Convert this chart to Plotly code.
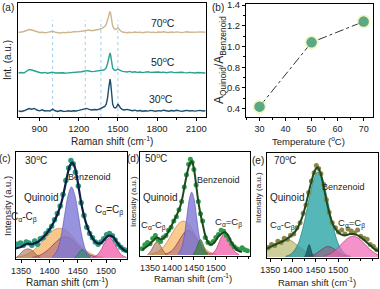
import plotly.graph_objects as go

W, H = 380, 289
FONT = "Liberation Sans, Arial, sans-serif"

# ---------------- (a) Raman spectra ----------------
a_shift = [740, 760, 780, 800, 820, 840, 860, 880, 900, 920, 940, 960, 980, 1000, 1020, 1040,
           1060, 1080, 1100, 1120, 1140, 1160, 1180, 1200, 1220, 1240, 1260, 1280, 1300, 1320, 1340, 1360,
           1375, 1390, 1400, 1410, 1420, 1428, 1435, 1440, 1445, 1452, 1460, 1470, 1480, 1490, 1500, 1510, 1520, 1535,
           1550, 1570, 1590, 1610, 1630, 1650, 1670, 1690, 1710, 1730, 1750, 1770, 1790, 1810, 1830, 1850,
           1870, 1890, 1910, 1930, 1950, 1970, 1990, 2010, 2030, 2050, 2070, 2090, 2110, 2130, 2150, 2170]
a_30C = [1.0, 0.5, 1.2, 2.0, 3.5, 2.8, 3.6, 2.0, 1.2, 2.2, 1.0, 1.4, 1.0, 2.8, 1.2, 0.6,
         1.5, 0.8, 0.6, 1.2, 0.7, 1.3, 1.0, 1.6, 2.2, 3.0, 3.6, 2.6, 2.0, 2.5, 2.2, 3.0,
         3.8, 4.5, 5.5, 7.5, 13, 22, 30, 33, 29, 17, 8, 4.5, 4.0, 5.0, 8.0, 6.0, 4.0, 2.5,
         2.0, 2.6, 1.6, 1.2, 1.8, 1.0, 1.5, 0.8, 1.3, 0.9, 1.6, 1.1, 0.7, 1.4, 1.0, 1.8,
         1.2, 0.8, 1.5, 1.0, 1.7, 1.1, 0.6, 1.3, 1.6, 1.0, 1.4, 0.9, 1.2, 1.6, 1.0, 1.3]
a_50C = [1.0, 1.5, 1.0, 2.5, 4.5, 4.0, 3.0, 2.0, 1.5, 1.0, 1.6, 0.8, 1.2, 1.8, 1.0, 1.2,
         0.7, 1.3, 0.9, 1.1, 1.5, 1.0, 1.4, 1.8, 2.2, 2.8, 3.4, 3.0, 2.4, 2.6, 2.8, 3.2,
         3.6, 4.0, 4.5, 6.0, 10, 15, 19.5, 21, 18.5, 11, 6, 4.0, 3.5, 4.0, 5.0, 4.2, 3.2, 2.6,
         2.4, 2.0, 2.6, 1.8, 2.2, 1.6, 2.0, 1.4, 1.9, 2.3, 1.6, 1.8, 1.3, 2.0, 1.5, 1.9,
         1.2, 1.7, 2.1, 1.4, 1.6, 1.2, 1.8, 1.4, 1.1, 1.6, 1.3, 1.0, 1.5, 1.2, 1.4, 1.0]
a_70C = [0.5, 0.8, 1.5, 2.5, 3.5, 3.0, 2.2, 1.0, 0.5, 0.8, 0.2, 0.6, 1.2, 1.8, 0.8, 0.4,
         0.0, 0.6, 0.3, 0.9, 0.6, 1.2, 1.0, 1.5, 1.8, 2.2, 2.8, 3.0, 2.2, 2.5, 3.0, 3.8,
         4.5, 5.5, 6.5, 8.5, 12, 16, 20, 21.5, 19.5, 13, 7, 4.5, 3.6, 4.0, 5.2, 4.0, 2.2, 1.0,
         0.6, 0.2, 0.8, 0.4, 1.0, 0.5, 0.9, 0.3, 0.8, 1.1, 0.6, 0.9, 0.4, 1.0, 0.7, 1.2,
         0.8, 0.5, 1.0, 0.6, 1.1, 0.7, 0.4, 0.9, 1.2, 0.7, 1.0, 0.6, 0.9, 1.1, 0.6, 0.8]
a_labels = ["30<sup>o</sup>C", "50<sup>o</sup>C", "70<sup>o</sup>C"]
a_ref_lines = [1000, 1250, 1370, 1500]
a_xticks = [900, 1200, 1500, 1800, 2100]

# ---------------- (b) ratio vs temperature ----------------
b_temp = [30, 50, 70]
b_ratio = [0.42, 1.04, 1.24]

# ---------------- (c) 30 C fit ----------------
c_cc_x = [1341, 1347, 1354, 1362, 1370, 1377, 1384]
c_cc_y = [0.0, 0.03, 0.07, 0.085, 0.07, 0.03, 0.0]
c_q_x = [1341, 1355, 1370, 1385, 1400, 1410, 1418, 1426, 1436, 1450, 1465, 1480, 1495]
c_q_y = [0.006, 0.022, 0.064, 0.14, 0.23, 0.27, 0.28, 0.27, 0.23, 0.146, 0.068, 0.024, 0.006]
c_m_x = [1370, 1385, 1398, 1410, 1420, 1428, 1436, 1446, 1458, 1471, 1486]
c_m_y = [0.006, 0.03, 0.079, 0.143, 0.187, 0.2, 0.187, 0.143, 0.079, 0.03, 0.006]
c_b_x = [1405, 1413, 1420, 1427, 1433, 1439, 1445, 1451, 1458, 1465, 1473]
c_b_y = [0.01, 0.064, 0.19, 0.41, 0.59, 0.67, 0.59, 0.41, 0.19, 0.064, 0.01]
c_g_x = [1444, 1450, 1454, 1458, 1462, 1466, 1472]
c_g_y = [0.0, 0.033, 0.064, 0.08, 0.064, 0.033, 0.0]
c_p_x = [1476, 1484, 1492, 1499, 1506, 1513, 1520, 1528, 1536]
c_p_y = [0.005, 0.026, 0.085, 0.155, 0.19, 0.155, 0.085, 0.026, 0.005]
c_fit_x = [1341, 1348, 1355, 1362, 1368, 1375, 1382, 1390, 1398, 1406, 1414, 1421, 1427, 1432, 1436, 1440,
           1444, 1448, 1453, 1458, 1464, 1470, 1477, 1484, 1491, 1498, 1505, 1512, 1519, 1526, 1533, 1537]
c_fit_y = [0.09, 0.10, 0.12, 0.135, 0.13, 0.14, 0.16, 0.20, 0.25, 0.32, 0.41, 0.52, 0.66, 0.79, 0.87, 0.90,
           0.87, 0.78, 0.62, 0.47, 0.34, 0.25, 0.18, 0.14, 0.14, 0.18, 0.21, 0.20, 0.15, 0.10, 0.07, 0.06]
c_pts_x = [1343, 1349, 1354, 1359, 1364, 1369, 1374, 1379, 1384, 1389, 1394, 1399, 1404, 1409, 1414, 1419,
           1424, 1429, 1434, 1438, 1442, 1446, 1451, 1456, 1461, 1466, 1471, 1476, 1481, 1486, 1491, 1496,
           1501, 1506, 1511, 1516, 1521, 1526, 1531, 1536]
c_pts_y = [0.13, 0.14, 0.12, 0.15, 0.14, 0.12, 0.16, 0.13, 0.18, 0.19, 0.23, 0.26, 0.30, 0.36, 0.42, 0.49,
           0.60, 0.73, 0.85, 0.92, 0.89, 0.81, 0.68, 0.52, 0.40, 0.29, 0.23, 0.19, 0.15, 0.13, 0.15, 0.18,
           0.22, 0.23, 0.21, 0.17, 0.13, 0.10, 0.08, 0.07]

# ---------------- (d) 50 C fit ----------------
d_cc_x = [1344, 1352, 1359, 1366, 1373, 1380, 1388]
d_cc_y = [0.0, 0.04, 0.095, 0.13, 0.095, 0.04, 0.0]
d_q_x = [1350, 1365, 1380, 1395, 1408, 1418, 1426, 1434, 1444, 1457, 1472, 1487, 1502]
d_q_y = [0.006, 0.026, 0.077, 0.17, 0.264, 0.316, 0.33, 0.316, 0.264, 0.17, 0.077, 0.026, 0.006]
d_m_x = [1385, 1398, 1410, 1420, 1430, 1437, 1444, 1454, 1464, 1476, 1489]
d_m_y = [0.008, 0.036, 0.097, 0.167, 0.226, 0.24, 0.226, 0.167, 0.097, 0.036, 0.008]
d_b_x = [1414, 1421, 1428, 1434, 1440, 1445, 1450, 1456, 1462, 1469, 1476]
d_b_y = [0.012, 0.057, 0.185, 0.37, 0.55, 0.61, 0.55, 0.37, 0.185, 0.057, 0.012]
d_g_x = [1448, 1454, 1460, 1465, 1470, 1476, 1482]
d_g_y = [0.008, 0.044, 0.116, 0.15, 0.116, 0.044, 0.008]
d_p_x = [1487, 1496, 1504, 1512, 1520, 1528, 1536, 1544, 1553]
d_p_y = [0.005, 0.028, 0.086, 0.168, 0.21, 0.168, 0.086, 0.028, 0.005]
d_fit_x = [1332, 1345, 1355, 1366, 1375, 1385, 1395, 1403, 1410, 1418, 1424, 1430, 1436, 1441, 1445, 1449,
           1454, 1459, 1464, 1470, 1476, 1483, 1490, 1498, 1506, 1514, 1521, 1528, 1536, 1544, 1552, 1560]
d_fit_y = [0.05, 0.09, 0.13, 0.17, 0.15, 0.18, 0.25, 0.32, 0.38, 0.46, 0.56, 0.70, 0.82, 0.89, 0.91, 0.86,
           0.72, 0.55, 0.42, 0.30, 0.19, 0.12, 0.10, 0.13, 0.18, 0.21, 0.22, 0.19, 0.12, 0.07, 0.04, 0.03]
d_pts_x = [1332, 1338, 1344, 1350, 1356, 1362, 1368, 1374, 1380, 1386, 1392, 1398, 1404, 1410, 1416, 1422,
           1428, 1433, 1438, 1442, 1446, 1450, 1455, 1460, 1465, 1470, 1476, 1482, 1488, 1494, 1500, 1506,
           1512, 1518, 1524, 1530, 1536, 1542, 1548, 1554, 1560, 1566, 1572]
d_pts_y = [0.06, 0.10, 0.12, 0.11, 0.16, 0.19, 0.15, 0.13, 0.17, 0.19, 0.24, 0.27, 0.33, 0.37, 0.44, 0.52,
           0.66, 0.78, 0.88, 0.93, 0.90, 0.83, 0.68, 0.52, 0.40, 0.33, 0.17, 0.12, 0.11, 0.13, 0.17, 0.20,
           0.24, 0.23, 0.19, 0.15, 0.11, 0.08, 0.06, 0.05, 0.07, 0.05, 0.04]

# ---------------- (e) 70 C fit ----------------
e_cc_x = [1343, 1355, 1365, 1375, 1385, 1395, 1405, 1415, 1428, 1442, 1458]
e_cc_y = [0.055, 0.095, 0.13, 0.16, 0.17, 0.16, 0.13, 0.095, 0.052, 0.021, 0.005]
e_q_x = [1385, 1394, 1402, 1409, 1415, 1421, 1428, 1436, 1445]
e_q_y = [0.004, 0.019, 0.05, 0.08, 0.09, 0.08, 0.05, 0.019, 0.004]
e_b_x = [1384, 1396, 1410, 1422, 1432, 1440, 1448, 1456, 1464, 1472, 1480, 1490, 1502, 1516, 1528]
e_b_y = [0.006, 0.027, 0.11, 0.275, 0.476, 0.644, 0.77, 0.82, 0.77, 0.644, 0.476, 0.275, 0.11, 0.027, 0.006]
e_n_x = [1426, 1430, 1433, 1436, 1439, 1442, 1446]
e_n_y = [0.0, 0.04, 0.09, 0.12, 0.09, 0.04, 0.0]
e_m_x = [1436, 1448, 1460, 1470, 1478, 1486, 1496, 1508, 1520]
e_m_y = [0.007, 0.025, 0.06, 0.09, 0.1, 0.09, 0.06, 0.025, 0.007]
e_p_x = [1470, 1484, 1496, 1508, 1520, 1533, 1546, 1558, 1570, 1580, 1588]
e_p_y = [0.011, 0.034, 0.073, 0.126, 0.176, 0.2, 0.176, 0.126, 0.073, 0.039, 0.021]
e_fit_x = [1343, 1352, 1362, 1372, 1382, 1392, 1400, 1408, 1415, 1422, 1428, 1434, 1440, 1446, 1451, 1455,
           1460, 1466, 1472, 1479, 1486, 1494, 1502, 1510, 1518, 1526, 1534, 1542, 1550, 1558, 1566, 1574,
           1582, 1588]
e_fit_y = [0.08, 0.10, 0.12, 0.14, 0.16, 0.19, 0.22, 0.26, 0.32, 0.40, 0.49, 0.60, 0.71, 0.80, 0.85, 0.86,
           0.82, 0.72, 0.59, 0.45, 0.34, 0.27, 0.23, 0.21, 0.21, 0.22, 0.22, 0.21, 0.19, 0.16, 0.13, 0.10,
           0.07, 0.06]
e_pts_x = [1346, 1353, 1360, 1367, 1374, 1381, 1388, 1395, 1402, 1409, 1416, 1423, 1429, 1435, 1441, 1447,
           1452, 1457, 1462, 1468, 1474, 1480, 1487, 1494, 1501, 1508, 1515, 1522, 1529, 1536, 1543, 1550,
           1557, 1564, 1571, 1578, 1585]
e_pts_y = [0.09, 0.12, 0.11, 0.15, 0.14, 0.18, 0.17, 0.21, 0.22, 0.28, 0.33, 0.42, 0.50, 0.62, 0.73, 0.81,
           0.88, 0.85, 0.80, 0.70, 0.55, 0.43, 0.33, 0.28, 0.24, 0.26, 0.22, 0.27, 0.25, 0.23, 0.26, 0.20,
           0.18, 0.17, 0.12, 0.10, 0.07]
fit_xticks = [1350, 1400, 1450, 1500]

# ---------------- styling / layout constants ----------------
A_OFFSETS = [5, 43, 84]
A_COLORS = ["#1c4e6c", "#28a18f", "#cdb78e"]


def dx(l, r):
    return [l / W, r / W]


def dy(t, b):
    return [1 - b / H, 1 - t / H]


fig = go.Figure()

# (a) spectra
for vals, off, col in zip([a_30C, a_50C, a_70C], A_OFFSETS, A_COLORS):
    fig.add_trace(go.Scatter(x=a_shift, y=[v + off for v in vals], mode="lines",
                             line=dict(color=col, width=1.4), xaxis="x", yaxis="y",
                             showlegend=False, hoverinfo="skip"))
for xv in a_ref_lines:
    fig.add_shape(type="line", xref="x", yref="y", x0=xv, x1=xv, y0=0, y1=97,
                  line=dict(color="#a9cde6", width=1, dash="dot"), layer="below")

# (b)
fig.add_trace(go.Scatter(x=b_temp, y=b_ratio, mode="lines",
                         line=dict(color="#333333", width=1, dash="dashdot"),
                         xaxis="x2", yaxis="y2", showlegend=False))
fig.add_trace(go.Scatter(x=b_temp, y=b_ratio, mode="markers",
                         marker=dict(size=14, color="rgba(240,240,150,0.55)"),
                         xaxis="x2", yaxis="y2", showlegend=False))
fig.add_trace(go.Scatter(x=b_temp, y=b_ratio, mode="markers",
                         marker=dict(size=10.5, color="#5aa985", line=dict(width=0)),
                         xaxis="x2", yaxis="y2", showlegend=False))


def comp(xs, ys, fillc, linec, ax):
    fig.add_trace(go.Scatter(x=xs, y=ys, mode="lines", fill="tozeroy", fillcolor=fillc,
                             line=dict(color=linec, width=0.8, shape="spline"),
                             xaxis="x" + ax, yaxis="y" + ax, showlegend=False, hoverinfo="skip"))


# (c)
comp(c_q_x, c_q_y, "rgba(247,180,100,0.75)", "rgba(200,120,60,0.8)", "3")
comp(c_m_x, c_m_y, "rgba(150,70,110,0.45)", "rgba(120,40,80,0.8)", "3")
comp(c_cc_x, c_cc_y, "rgba(170,110,80,0.6)", "rgba(130,70,50,0.8)", "3")
comp(c_b_x, c_b_y, "rgba(125,120,215,0.8)", "rgba(90,80,180,0.8)", "3")
comp(c_g_x, c_g_y, "rgba(50,140,110,0.7)", "rgba(40,110,80,0.8)", "3")
comp(c_p_x, c_p_y, "rgba(240,90,170,0.75)", "rgba(190,40,110,0.8)", "3")
fig.add_trace(go.Scatter(x=c_pts_x, y=c_pts_y, mode="markers",
                         marker=dict(size=5.5, color="#2d9a78"), xaxis="x3", yaxis="y3", showlegend=False))
fig.add_trace(go.Scatter(x=c_fit_x, y=c_fit_y, mode="lines",
                         line=dict(color="#0d1f45", width=2.2, shape="spline"),
                         xaxis="x3", yaxis="y3", showlegend=False))

# (d)
comp(d_q_x, d_q_y, "rgba(247,185,105,0.75)", "rgba(200,120,60,0.8)", "4")
comp(d_m_x, d_m_y, "rgba(150,70,110,0.45)", "rgba(120,40,80,0.8)", "4")
comp(d_cc_x, d_cc_y, "rgba(170,110,80,0.6)", "rgba(130,70,50,0.8)", "4")
comp(d_b_x, d_b_y, "rgba(125,120,215,0.8)", "rgba(90,80,180,0.8)", "4")
comp(d_g_x, d_g_y, "rgba(60,130,60,0.75)", "rgba(40,100,40,0.8)", "4")
comp(d_p_x, d_p_y, "rgba(240,90,170,0.75)", "rgba(190,40,110,0.8)", "4")
fig.add_trace(go.Scatter(x=d_pts_x, y=d_pts_y, mode="markers",
                         marker=dict(size=5, color="#2f9a4a"), xaxis="x4", yaxis="y4", showlegend=False))
fig.add_trace(go.Scatter(x=d_fit_x, y=d_fit_y, mode="lines",
                         line=dict(color="#1d4a1d", width=2, shape="spline"),
                         xaxis="x4", yaxis="y4", showlegend=False))

# (e)
comp(e_cc_x, e_cc_y, "rgba(180,180,100,0.65)", "rgba(130,130,60,0.8)", "5")
comp(e_q_x, e_q_y, "rgba(232,160,128,0.6)", "rgba(190,110,80,0.8)", "5")
comp(e_b_x, e_b_y, "rgba(42,165,165,0.8)", "rgba(30,120,120,0.8)", "5")
comp(e_n_x, e_n_y, "rgba(25,90,100,0.85)", "rgba(20,70,80,0.8)", "5")
comp(e_m_x, e_m_y, "rgba(150,70,110,0.5)", "rgba(120,40,80,0.8)", "5")
comp(e_p_x, e_p_y, "rgba(240,100,180,0.7)", "rgba(190,40,110,0.8)", "5")
fig.add_trace(go.Scatter(x=e_pts_x, y=e_pts_y, mode="markers",
                         marker=dict(size=5, color="#8a8648"), xaxis="x5", yaxis="y5", showlegend=False))
fig.add_trace(go.Scatter(x=e_fit_x, y=e_fit_y, mode="lines",
                         line=dict(color="#1f4a1f", width=2, shape="spline"),
                         xaxis="x5", yaxis="y5", showlegend=False))

axbase = dict(showline=True, linecolor="black", linewidth=1, mirror=True, showgrid=False,
              zeroline=False, ticks="outside", ticklen=3, tickwidth=1, tickcolor="black",
              tickangle=0, tickfont=dict(family=FONT, size=9.5, color="#222"))
fitax = dict(axbase, tickfont=dict(family=FONT, size=9, color="#222"))
noy = dict(showline=True, linecolor="black", linewidth=1, mirror=True, showgrid=False,
           zeroline=False, ticks="", showticklabels=False)

fig.update_layout(
    width=W, height=H, margin=dict(l=0, r=0, t=0, b=0, autoexpand=False),
    paper_bgcolor="white", plot_bgcolor="white", showlegend=False,
    xaxis=dict(axbase, domain=dx(18, 206), range=[735, 2175], tickvals=a_xticks, anchor="y",
               minor=dict(ticks="outside", ticklen=2, dtick=150, tick0=750)),
    yaxis=dict(noy, domain=dy(3, 117), range=[0, 114], anchor="x"),
    xaxis2=dict(axbase, domain=dx(246, 373), range=[24.8, 73.6], dtick=10, anchor="y2",
                tickfont=dict(family=FONT, size=9, color="#222"),
                minor=dict(ticks="outside", ticklen=2, dtick=5)),
    yaxis2=dict(axbase, domain=dy(4, 117), range=[0.32, 1.41], dtick=0.2, tick0=0.4,
                tickformat=".1f", anchor="x2", minor=dict(ticks="outside", ticklen=2, dtick=0.1)),
    xaxis3=dict(fitax, domain=dx(16, 127), range=[1341, 1537], tickvals=fit_xticks, anchor="y3",
                minor=dict(ticks="outside", ticklen=2, dtick=25, tick0=1350)),
    yaxis3=dict(noy, domain=dy(152, 259), range=[-0.01, 1.0], anchor="x3"),
    xaxis4=dict(fitax, domain=dx(140, 250), range=[1327, 1578], tickvals=fit_xticks, anchor="y4",
                minor=dict(ticks="outside", ticklen=2, dtick=25, tick0=1350)),
    yaxis4=dict(noy, domain=dy(152, 256), range=[-0.01, 1.0], anchor="x4"),
    xaxis5=dict(fitax, domain=dx(267, 378), range=[1343, 1588], tickvals=fit_xticks, anchor="y5",
                minor=dict(ticks="outside", ticklen=2, dtick=25, tick0=1350)),
    yaxis5=dict(noy, domain=dy(153, 258), range=[-0.01, 1.0], anchor="x5"),
)


def ann(text, x, y, size=10, xanchor="center", angle=0, color="#222"):
    fig.add_annotation(text=text, x=x / W, y=1 - y / H, xref="paper", yref="paper",
                       showarrow=False, xanchor=xanchor, yanchor="middle", textangle=angle,
                       font=dict(family=FONT, size=size, color=color))


# panel labels
ann("(a)", 8, 8, 10)
ann("(b)", 218, 8, 10)
ann("(c)", 5, 158, 10)
ann("(d)", 133, 158, 10)
ann("(e)", 258, 160, 10)

# (a) texts
ann("Raman shift (cm<sup>-1</sup>)", 112, 141, 10)
ann("Int. (a.u.)", 8, 60, 10, angle=-90)
ann(a_labels[2], 163, 22, 10.5)
ann(a_labels[1], 163, 62, 10.5)
ann(a_labels[0], 161, 99, 10.5)

# (b) texts
ann("Temperature (<sup>o</sup>C)", 308, 141, 9.5)
ann("A<sub>Quinoid</sub>/A<sub>Benzenoid</sub>", 220, 60, 12, angle=-90)

# (c) texts
ann("Raman shift (cm<sup>-1</sup>)", 67, 282, 10)
ann("Intensity (a.u.)", 7, 206, 9.5, angle=-90)
ann("30<sup>o</sup>C", 23, 160, 10, xanchor="left")
ann("Quinoid", 41, 197, 10)
ann("Benzenoid", 89, 177, 9)
ann("C<sub>α</sub>-C<sub>β</sub>", 24, 217, 10)
ann("C<sub>α</sub>=C<sub>β</sub>", 109, 210, 10)

# (d) texts
ann("Raman shift (cm<sup>-1</sup>)", 193, 278, 9.5)
ann("Intensity (a.u.)", 133, 202, 8, angle=-90)
ann("50<sup>o</sup>C", 143, 158, 10, xanchor="left")
ann("Benzenoid", 218, 180, 9)
ann("Quinoid", 160, 197, 10)
ann("C<sub>α</sub>-C<sub>β</sub>", 153, 225, 9.5)
ann("C<sub>α</sub>=C<sub>β</sub>", 228, 222, 9.5)

# (e) texts
ann("Raman shift (cm<sup>-1</sup>)", 317, 282, 9.5)
ann("Intensity (a.u.)", 259, 198, 8, angle=-90)
ann("70<sup>o</sup>C", 272, 160, 10, xanchor="left")
ann("Quinoid", 287, 197, 10)
ann("Benzenoid", 343, 187, 9)
ann("C<sub>α</sub>-C<sub>β</sub>", 282, 225, 9.5)
ann("C<sub>α</sub>=C<sub>β</sub>", 351, 223, 9.5)

fig.write_html("out.html", config={"displayModeBar": False, "staticPlot": True},
               post_script="document.body.style.margin='0';document.body.style.padding='0';"
                           "document.body.style.overflow='hidden';")
